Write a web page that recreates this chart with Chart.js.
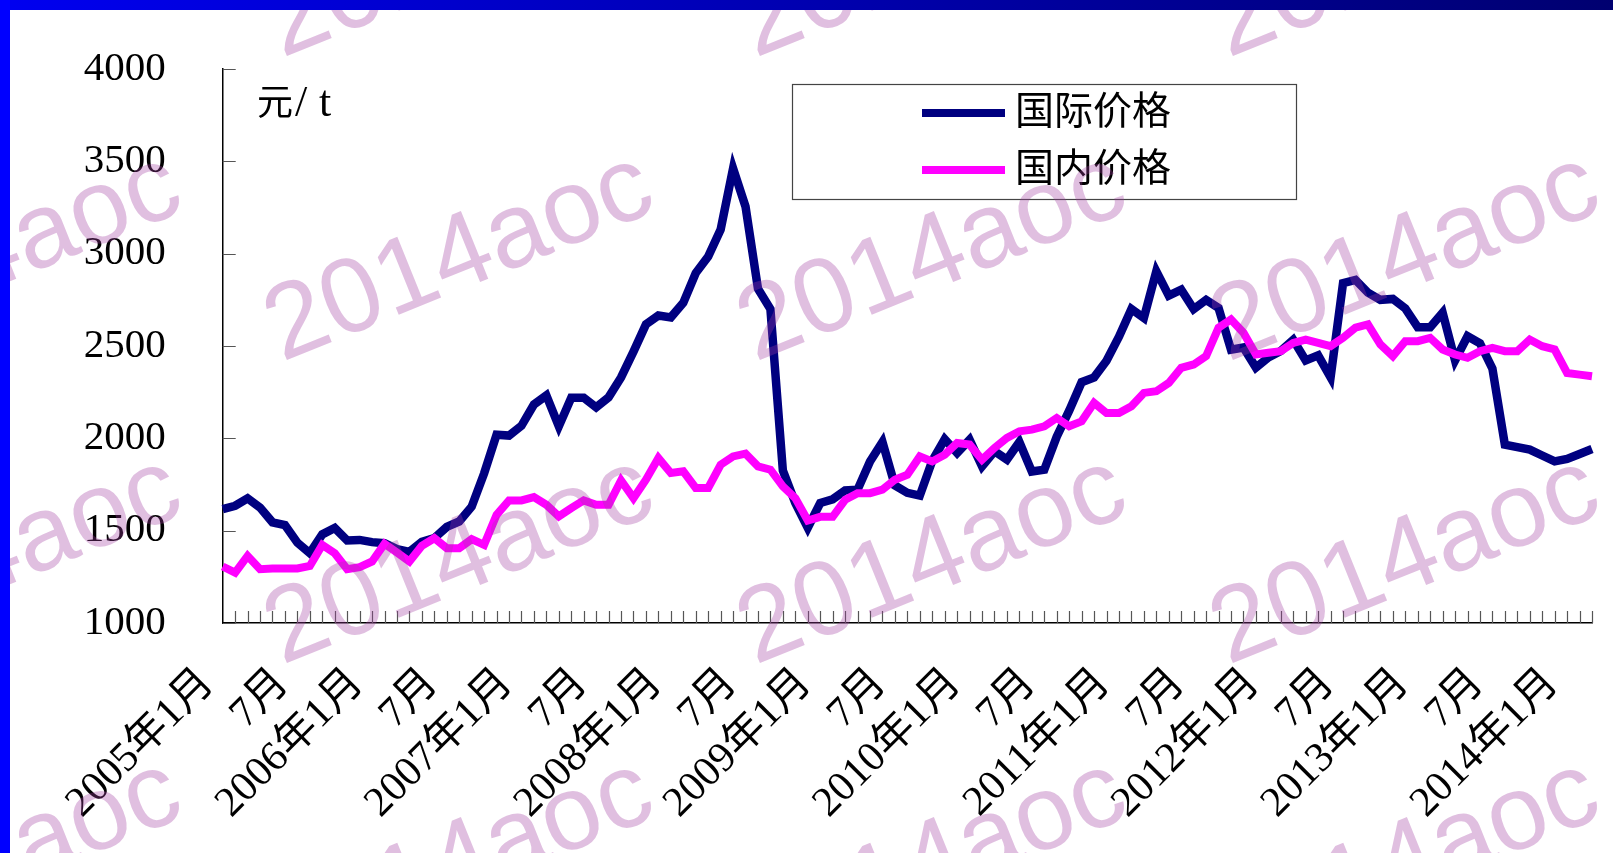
<!DOCTYPE html>
<html>
<head>
<meta charset="utf-8">
<script src="https://cdn.jsdelivr.net/npm/chart.js@4/dist/chart.umd.min.js"></script>
<style>
  html, body { margin: 0; padding: 0; background: #fff; overflow: hidden; }
  canvas { display: block; }
</style>
</head>
<body>
<canvas id="priceChart" width="1613" height="853"></canvas>
<script>
// months 2005-01 .. 2014-03
const categories = [
  '2005年1月','2005年2月','2005年3月','2005年4月','2005年5月','2005年6月','2005年7月','2005年8月','2005年9月','2005年10月','2005年11月','2005年12月',
  '2006年1月','2006年2月','2006年3月','2006年4月','2006年5月','2006年6月','2006年7月','2006年8月','2006年9月','2006年10月','2006年11月','2006年12月',
  '2007年1月','2007年2月','2007年3月','2007年4月','2007年5月','2007年6月','2007年7月','2007年8月','2007年9月','2007年10月','2007年11月','2007年12月',
  '2008年1月','2008年2月','2008年3月','2008年4月','2008年5月','2008年6月','2008年7月','2008年8月','2008年9月','2008年10月','2008年11月','2008年12月',
  '2009年1月','2009年2月','2009年3月','2009年4月','2009年5月','2009年6月','2009年7月','2009年8月','2009年9月','2009年10月','2009年11月','2009年12月',
  '2010年1月','2010年2月','2010年3月','2010年4月','2010年5月','2010年6月','2010年7月','2010年8月','2010年9月','2010年10月','2010年11月','2010年12月',
  '2011年1月','2011年2月','2011年3月','2011年4月','2011年5月','2011年6月','2011年7月','2011年8月','2011年9月','2011年10月','2011年11月','2011年12月',
  '2012年1月','2012年2月','2012年3月','2012年4月','2012年5月','2012年6月','2012年7月','2012年8月','2012年9月','2012年10月','2012年11月','2012年12月',
  '2013年1月','2013年2月','2013年3月','2013年4月','2013年5月','2013年6月','2013年7月','2013年8月','2013年9月','2013年10月','2013年11月','2013年12月',
  '2014年1月','2014年2月','2014年3月'
];

const intlPrice = [
  1617,1635,1675,1625,1545,1530,1435,1378,1480,1515,1447,1450,
  1438,1432,1400,1385,1440,1460,1520,1550,1630,1810,2020,2015,
  2068,2183,2232,2065,2220,2220,2168,2222,2330,2470,2617,2665,
  2655,2734,2895,2985,3130,3462,3255,2810,2700,1825,1650,1516,
  1650,1670,1718,1722,1875,1980,1745,1705,1690,1878,1995,1921,
  1992,1848,1930,1885,1980,1820,1830,2009,2150,2304,2330,2420,
  2550,2700,2652,2905,2773,2805,2700,2750,2706,2480,2492,2383,
  2438,2473,2533,2422,2449,2330,2840,2858,2789,2750,2755,2704,
  2602,2602,2680,2422,2553,2515,2378,1966,1952,1939,1907,1875,
  1888,1915,1942
];

const domesticPrice = [
  1306,1273,1363,1291,1295,1295,1295,1309,1423,1378,1291,1302,
  1333,1429,1382,1333,1418,1459,1405,1405,1454,1423,1586,1664,
  1664,1682,1640,1577,1622,1664,1640,1640,1772,1676,1776,1893,
  1812,1821,1731,1731,1857,1902,1917,1848,1830,1740,1676,1555,
  1575,1575,1667,1703,1703,1722,1776,1803,1902,1875,1911,1975,
  1966,1884,1948,2002,2038,2047,2065,2110,2065,2092,2192,2137,
  2137,2174,2246,2255,2300,2382,2400,2445,2599,2644,2572,2454,
  2463,2472,2517,2535,2517,2499,2544,2599,2617,2508,2445,2526,
  2526,2544,2481,2454,2436,2472,2490,2472,2472,2535,2499,2481,
  2354,2345,2336
];

const seriesNames = ['国际价格', '国内价格'];
const yTicks = [1000, 1500, 2000, 2500, 3000, 3500, 4000];
const unitParts = ['元', '/', 't'];
const watermark = '2014aoc';

const serif = '"Liberation Serif", "Noto Sans CJK SC", serif';

const decor = {
  id: 'decor',
  afterDraw(chart) {
    const ctx = chart.ctx;
    const x = chart.scales.x, y = chart.scales.y;
    const area = chart.chartArea;
    ctx.save();

    // short inward tick marks
    ctx.strokeStyle = '#555';
    ctx.lineWidth = 1.2;
    ctx.beginPath();
    for (let i = 1; i < categories.length; i++) {
      const px = Math.round(x.getPixelForValue(i)) + 0.5;
      ctx.moveTo(px, area.bottom);
      ctx.lineTo(px, area.bottom - 12);
    }
    yTicks.forEach(v => {
      const py = Math.round(y.getPixelForValue(v)) + 0.5;
      ctx.moveTo(area.left, py);
      ctx.lineTo(area.left + 13, py);
    });
    ctx.stroke();

    // unit text
    ctx.fillStyle = '#000';
    ctx.textBaseline = 'alphabetic';
    ctx.textAlign = 'left';
    ctx.font = '36px ' + serif;
    ctx.fillText(unitParts[0], 257, 115);
    ctx.font = '44px ' + serif;
    ctx.fillText(unitParts[1], 295, 116);
    ctx.fillText(unitParts[2], 319, 116);

    // legend box
    ctx.textBaseline = 'middle';
    ctx.strokeStyle = '#444';
    ctx.lineWidth = 1.2;
    ctx.fillStyle = '#fff';
    ctx.fillRect(792, 84, 504, 115);
    ctx.strokeRect(792.5, 84.5, 504, 115);
    chart.data.datasets.forEach((ds, k) => {
      const ly = 113 + k * 57;
      ctx.strokeStyle = ds.borderColor;
      ctx.lineWidth = 8;
      ctx.beginPath();
      ctx.moveTo(922, ly);
      ctx.lineTo(1005, ly);
      ctx.stroke();
      ctx.fillStyle = '#000';
      ctx.font = '39px ' + serif;
      ctx.fillText(ds.label, 1015, ly + 1);
    });

    // watermark
    ctx.fillStyle = 'rgba(160, 60, 160, 0.33)';
    ctx.font = '106px "Liberation Sans", Arial, sans-serif';
    ctx.textBaseline = 'alphabetic';
    const cols = [-190, 282, 755, 1228];
    const rows = [58, 362, 665, 968];
    rows.forEach(ry => cols.forEach(cx => {
      ctx.save();
      ctx.translate(cx, ry);
      ctx.rotate(-22 * Math.PI / 180);
      ctx.fillText(watermark, 0, 0);
      ctx.restore();
    }));

    // slide frame
    const grad = ctx.createLinearGradient(0, 0, 1613, 0);
    grad.addColorStop(0, '#0000f0');
    grad.addColorStop(1, '#000070');
    ctx.fillStyle = grad;
    ctx.fillRect(0, 0, 1613, 10);
    ctx.fillStyle = '#0000ff';
    ctx.fillRect(0, 0, 10, 853);
    ctx.restore();
  }
};

new Chart(document.getElementById('priceChart'), {
  type: 'line',
  data: {
    labels: categories,
    datasets: [
      {
        label: seriesNames[0],
        data: intlPrice,
        borderColor: '#000080',
        borderWidth: 8.5,
        pointRadius: 0,
        tension: 0,
        borderJoinStyle: 'miter',
        order: 1
      },
      {
        label: seriesNames[1],
        data: domesticPrice,
        borderColor: '#ff00ff',
        borderWidth: 8,
        pointRadius: 0,
        tension: 0,
        borderJoinStyle: 'miter',
        order: 0
      }
    ]
  },
  options: {
    responsive: false,
    animation: false,
    devicePixelRatio: 1,
    layout: { padding: { top: 69, right: 21, left: 0, bottom: 0 } },
    plugins: { legend: { display: false }, tooltip: { enabled: false } },
    scales: {
      x: {
        type: 'category',
        offset: false,
        grid: { drawOnChartArea: false, drawTicks: false },
        border: { display: true, color: '#000', width: 1.5 },
        ticks: {
          autoSkip: false,
          minRotation: 45,
          maxRotation: 45,
          padding: 36,
          labelOffset: -15,
          color: '#000',
          font: { family: serif, size: 42 },
          callback(value, i) {
            const s = categories[i];
            if (s.endsWith('年1月')) return s;
            if (s.endsWith('年7月')) return '7月';
            return '';
          }
        },
        afterFit(scale) {
          scale.height = 230;
          scale.paddingLeft = 0;
          scale.paddingRight = 0;
        }
      },
      y: {
        min: 1000,
        max: 4000,
        grid: { drawOnChartArea: false, drawTicks: false },
        border: { display: true, color: '#000', width: 1.5 },
        ticks: {
          stepSize: 500,
          padding: 57,
          color: '#000',
          font: { family: serif, size: 41 },
          callback: v => String(v)
        },
        afterFit(scale) {
          scale.width = 222.7;
          scale.paddingTop = 0;
          scale.paddingBottom = 0;
        }
      }
    }
  },
  plugins: [decor]
});
</script>
</body>
</html>
